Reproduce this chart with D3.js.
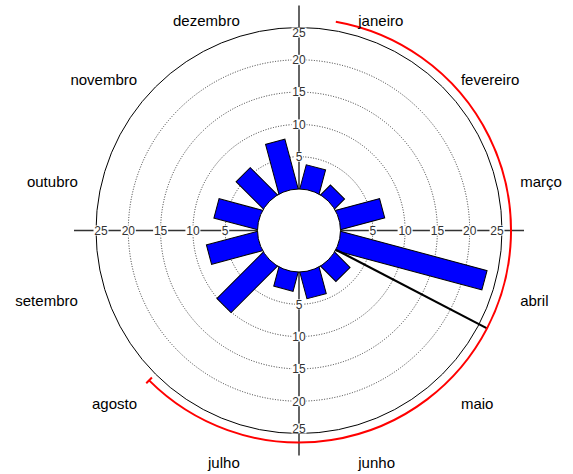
<!DOCTYPE html>
<html><head><meta charset="utf-8">
<script src="https://cdn.jsdelivr.net/npm/d3@7"></script>
<style>body{margin:0;background:#fff}svg{display:block}</style>
</head><body>
<svg id="chart" width="573" height="474"></svg>
<script>
// ---- data ----
const months = ["janeiro","fevereiro","março","abril","maio","junho","julho","agosto","setembro","outubro","novembro","dezembro"];
const values = [3.7, 2.0, 6.9, 23.3, 3.2, 4.1, 2.9, 10.0, 8.0, 6.8, 5.8, 7.8];
const radialTicks = [5, 10, 15, 20, 25];
const meanDirection = 117.5;   // degrees, clockwise from top
const angularSpread = 107.5;   // degrees either side of mean

// ---- layout ----
const W = 573, H = 474, cx = 299, cy = 230.5;
const svg = d3.select("#chart");
const g = svg.append("g").attr("transform", `translate(${cx},${cy})`);

const r = d3.scaleLinear().domain([0, 25]).range([41.5, 203]);
const ang = d3.scaleLinear().domain([0, months.length]).range([0, 360]);
const rad = a => a * Math.PI / 180;
const px = (a, rr) => rr * Math.sin(rad(a));
const py = (a, rr) => -rr * Math.cos(rad(a));

// dotted grid circles
g.selectAll("circle.grid").data(radialTicks.slice(0, -1)).join("circle")
  .attr("class", "grid").attr("r", d => r(d))
  .attr("fill", "none").attr("stroke", "#222").attr("stroke-width", 0.9)
  .attr("stroke-dasharray", "1,1.6");
// outer circle
g.append("circle").attr("r", r(25)).attr("fill", "none").attr("stroke", "#000").attr("stroke-width", 1);

// axis lines
const axLen = 225;
g.append("line").attr("x1", -axLen).attr("x2", axLen).attr("y1", 0).attr("y2", 0)
  .attr("stroke", "#333").attr("stroke-width", 1.3);
g.append("line").attr("y1", -axLen).attr("y2", axLen).attr("x1", 0).attr("x2", 0)
  .attr("stroke", "#111").attr("stroke-width", 1.3);

// tick labels in four directions
const dirs = [0, 90, 180, 270];
const tickData = [];
dirs.forEach(a => radialTicks.forEach(v => tickData.push({a: a, v: v})));
const tg = g.selectAll("g.tick").data(tickData).join("g").attr("class", "tick")
  .attr("transform", d => {
    const rr = r(d.v) - (d.v === 25 ? 5 : 0);
    return `translate(${px(d.a, rr)},${py(d.a, rr)})`;
  });
tg.append("rect").attr("x", d => d.v < 10 ? -4 : -7.5).attr("y", -5)
  .attr("width", d => d.v < 10 ? 8 : 15).attr("height", 10).attr("fill", "#fff");
tg.append("text").attr("text-anchor", "middle").attr("dy", "0.36em")
  .attr("font-family", "Liberation Sans, Arial, sans-serif").attr("font-size", 12)
  .attr("fill", "#333").text(d => String(d.v));

// bars (rectangles)
const barW = 20;
g.selectAll("g.bar").data(values).join("g").attr("class", "bar")
  .attr("transform", (d, i) => `rotate(${ang(i + 0.5)})`)
  .append("rect").attr("x", -barW / 2).attr("y", d => -r(d)).attr("width", barW)
  .attr("height", d => r(d))
  .attr("fill", "#0000ff").attr("stroke", "#000").attr("stroke-width", 1);

// inner white circle
g.append("circle").attr("r", r(0)).attr("fill", "#fff").attr("stroke", "#000").attr("stroke-width", 1);

// mean direction line
const arcR = 212;
g.append("line")
  .attr("x1", px(meanDirection, r(0))).attr("y1", py(meanDirection, r(0)))
  .attr("x2", px(meanDirection, arcR)).attr("y2", py(meanDirection, arcR))
  .attr("stroke", "#000").attr("stroke-width", 2.2);

// red spread arc
const a0 = meanDirection - angularSpread, a1 = meanDirection + angularSpread;
const p = d3.path();
p.arc(0, 0, arcR, rad(a0 - 90), rad(a1 - 90), false);
g.append("path").attr("d", p.toString()).attr("fill", "none").attr("stroke", "#ff0000").attr("stroke-width", 2);
// end cap
g.append("line")
  .attr("x1", px(a1, arcR - 4)).attr("y1", py(a1, arcR - 4))
  .attr("x2", px(a1, arcR + 4)).attr("y2", py(a1, arcR + 4))
  .attr("stroke", "#ff0000").attr("stroke-width", 2);

// month labels
const labR = 229;
g.selectAll("text.month").data(months).join("text").attr("class", "month")
  .attr("x", (d, i) => px(ang(i + 0.5), labR))
  .attr("y", (d, i) => py(ang(i + 0.5), labR) + 11)
  .attr("dy", "0.35em")
  .attr("text-anchor", (d, i) => ang(i + 0.5) < 180 ? "start" : "end")
  .attr("font-family", "Liberation Sans, Arial, sans-serif").attr("font-size", 15)
  .attr("fill", "#000").text(d => d);
</script>
</body></html>
